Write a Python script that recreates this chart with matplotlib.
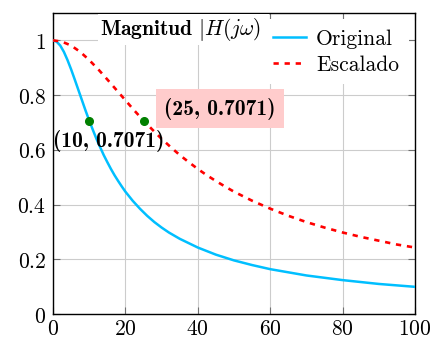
import matplotlib
matplotlib.use("Agg")
import matplotlib.pyplot as plt

plt.rcParams['mathtext.fontset'] = 'cm'
plt.rcParams['font.family'] = ['DejaVu Serif']

FS = 15.5

# Frequency samples (rad/s) and magnitude values of each response
w_orig = [0, 1, 2, 3, 4, 5, 6, 7, 8, 9, 10, 11, 12, 13, 14, 15, 16, 17, 18,
          19, 20, 22, 24, 26, 28, 30, 32, 35, 40, 45, 50, 55, 60, 70, 80,
          90, 100]
mag_orig = [1.000, 0.995, 0.981, 0.958, 0.928, 0.894, 0.857, 0.819, 0.781,
            0.743, 0.707, 0.673, 0.640, 0.610, 0.581, 0.555, 0.530, 0.507,
            0.486, 0.466, 0.447, 0.414, 0.385, 0.359, 0.336, 0.316, 0.298,
            0.275, 0.243, 0.217, 0.196, 0.179, 0.164, 0.141, 0.124, 0.110,
            0.0995]

w_esc = [0, 2.5, 5, 7.5, 10, 12.5, 15, 17.5, 20, 22.5, 25, 27.5, 30, 32.5,
         35, 37.5, 40, 42.5, 45, 47.5, 50, 55, 60, 65, 70, 75, 80, 85, 90,
         95, 100]
mag_esc = [1.000, 0.995, 0.981, 0.958, 0.928, 0.894, 0.857, 0.819, 0.781,
           0.743, 0.707, 0.673, 0.640, 0.610, 0.581, 0.555, 0.530, 0.507,
           0.486, 0.466, 0.447, 0.414, 0.385, 0.359, 0.336, 0.316, 0.298,
           0.282, 0.268, 0.254, 0.243]

# Cut-off points
cut_w = [10, 25]
cut_mag = [0.7071, 0.7071]

x_ticks = [0, 20, 40, 60, 80, 100]
y_ticks = [0, 0.2, 0.4, 0.6, 0.8, 1]
y_tick_labels = ['0', '0.2', '0.4', '0.6', '0.8', '1']

fig = plt.figure(figsize=(4.31, 3.41), dpi=100)
ax = fig.add_axes([0.123, 0.079, 0.840, 0.883])

ax.plot(w_orig, mag_orig, color='#00bfff', lw=1.8, label='Original',
        zorder=3)
ax.plot(w_esc, mag_esc, color='red', lw=1.9, ls=(0, (2.0, 2.2)),
        label='Escalado', zorder=3)
ax.plot(cut_w, cut_mag, 'o', color='green', ms=5.5, zorder=4)

ax.set_xlim(0, 100)
ax.set_ylim(0, 1.1)
ax.set_xticks(x_ticks)
ax.set_xticklabels([f'${t}$' for t in x_ticks])
ax.set_yticks(y_ticks)
ax.set_yticklabels([f'${t}$' for t in y_tick_labels])
ax.tick_params(direction='in', length=5, width=0.8, color='#707070',
               top=True, right=True, labelsize=FS)
ax.tick_params(axis='x', pad=2.5)
ax.tick_params(axis='y', pad=5)
ax.grid(True, color='#cccccc', lw=0.8)
ax.set_axisbelow(True)
for s in ax.spines.values():
    s.set_linewidth(1.0)

# Point labels (bold Computer Modern)
ax.annotate('(%d, %.4f)' % (cut_w[0], cut_mag[0]),
            xy=(cut_w[0], cut_mag[0]), xytext=(14, -14.5),
            textcoords='offset points', ha='center', va='center',
            fontsize=FS, family='cmb10', zorder=5)
ax.annotate('(%d, %.4f)' % (cut_w[1], cut_mag[1]),
            xy=(cut_w[1], cut_mag[1]), xytext=(55, 8.5),
            textcoords='offset points', ha='center', va='center',
            fontsize=FS, family='cmb10', zorder=5,
            bbox=dict(boxstyle='square,pad=0.4', fc='#ffcccc', ec='none'))

ax.text(0.36, 0.945, r'$\mathbf{Magnitud}\ |H(j\omega)|$', transform=ax.transAxes,
        ha='center', va='center', fontsize=FS, zorder=5,
        bbox=dict(boxstyle='square,pad=0.1', fc='white', ec='none'))

leg = ax.legend(loc='upper right', prop={'family': 'cmr10', 'size': FS},
                frameon=True, fancybox=False,
                handlelength=1.55, handletextpad=0.45, borderpad=0.45,
                labelspacing=0.3, borderaxespad=0.3)
leg.get_frame().set_edgecolor('none')
leg.get_frame().set_alpha(1)

fig.savefig('out.png', dpi=100)
